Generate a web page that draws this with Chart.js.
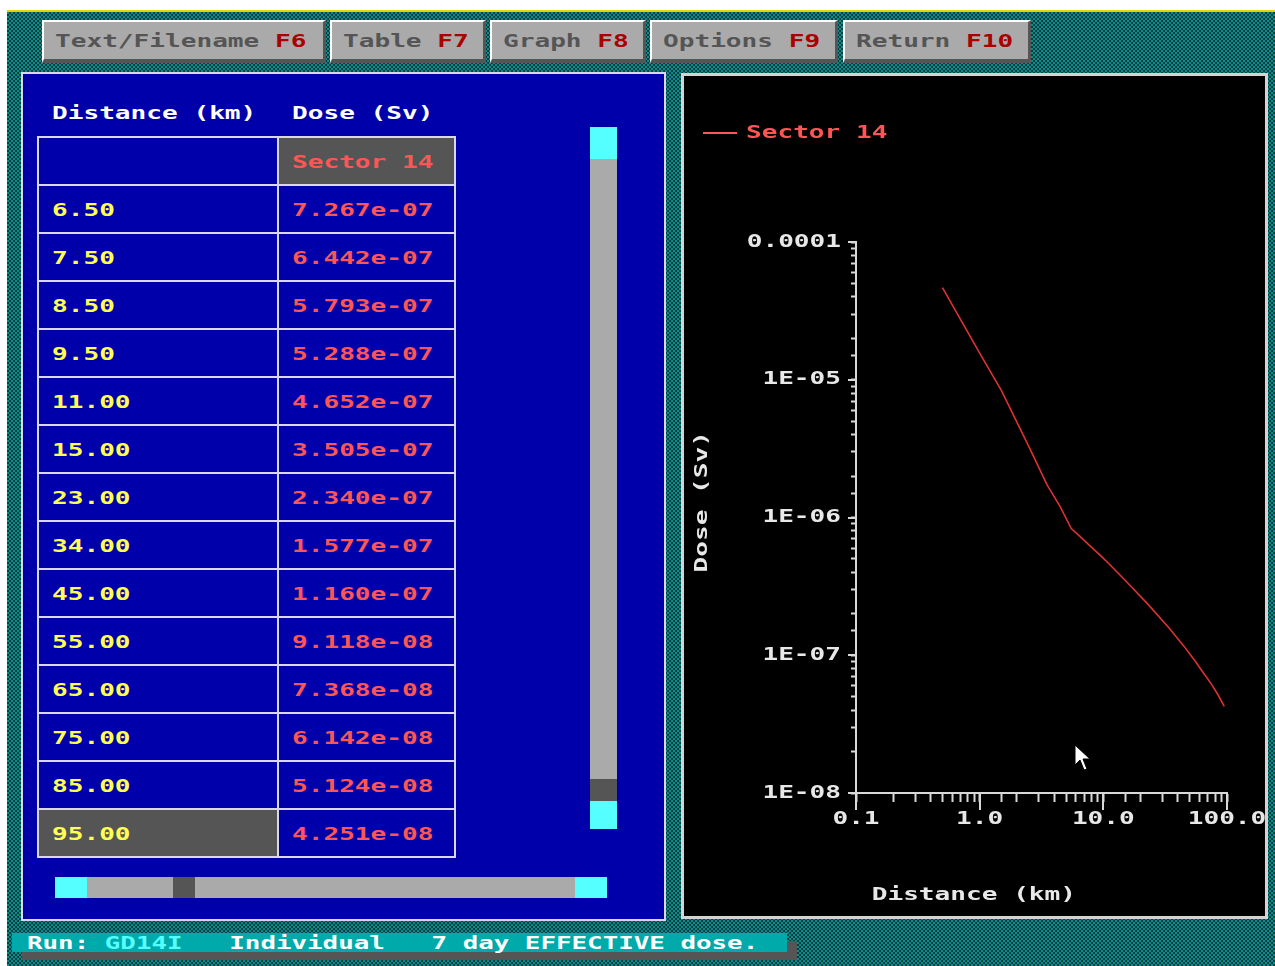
<!DOCTYPE html>
<html>
<head>
<meta charset="utf-8">
<title>Dose (Sv) - Sector 14</title>
<script src="https://cdn.jsdelivr.net/npm/chart.js@4.4.1/dist/chart.umd.min.js"></script>
<style>
  body { margin: 0; width: 1275px; height: 966px; background: #fff; position: relative; overflow: hidden;
         font-family: "DejaVu Sans Mono", monospace; font-weight: bold; font-size: 18px; }
  .abs { position: absolute; }
  .w { display: inline-block; transform: scaleX(1.45); transform-origin: 0 50%; white-space: pre; }
  #screen { left: 7px; top: 10px; width: 1268px; height: 956px; border-top: 2px solid #e4d400; box-sizing: border-box;
            background-image: conic-gradient(#073d3d 25%, #0b8b8b 0 50%, #073d3d 0 75%, #0b8b8b 0);
            background-size: 4px 4px; }
  .btn { top: 20px; height: 43px; box-sizing: border-box; background: #aaa; color: #555;
         border-top: 2px solid #fff; border-left: 2px solid #fff; border-right: 3px solid #555; border-bottom: 4px solid #555;
         display: flex; align-items: center; padding-left: 11px; }
  .btn .key { color: #aa0000; }
  #left { left: 21px; top: 72px; width: 645px; height: 849px; box-sizing: border-box; background: #0000aa; border: 2px solid #d8d8e8; }
  .head { color: #fff; top: 102px; }
  #grid { left: 37px; top: 136px; display: grid; grid-template-columns: 238px 175px; grid-auto-rows: 46px; gap: 2px;
          padding: 2px; background: #d8d8e8; }
  .cell { background: #0000aa; display: flex; align-items: center; padding-left: 13px; }
  .cell.d { color: #ffff55; }
  .cell.v { color: #ff5555; }
  .cell.hl { background: #555; }
  .bar { background: #aaa; }
  .cy { background: #55ffff; }
  .dk { background: #555; }
  #right { left: 681px; top: 73px; width: 587px; height: 846px; box-sizing: border-box; background: #000; border: 3px solid #d4d4d4; }
  #status { left: 12px; top: 933px; width: 775px; height: 19px; background: #00aaaa; color: #fff;
            box-shadow: 10px 8px 0 #555; font-size: 17px; display: flex; align-items: center; padding-left: 15px; box-sizing: border-box; }
  #status .w { transform: scaleX(1.52); }
  #status .run { color: #55ffff; }
</style>
</head>
<body>
<div id="screen" class="abs"></div>

<div class="abs btn" style="left:42px;width:284px"><span class="w">Text/Filename <span class="key">F6</span></span></div>
<div class="abs btn" style="left:330px;width:156px"><span class="w">Table <span class="key">F7</span></span></div>
<div class="abs btn" style="left:490px;width:156px"><span class="w">Graph <span class="key">F8</span></span></div>
<div class="abs btn" style="left:650px;width:188px"><span class="w">Options <span class="key">F9</span></span></div>
<div class="abs btn" style="left:843px;width:188px"><span class="w">Return <span class="key">F10</span></span></div>

<div id="left" class="abs"></div>
<div class="abs head" style="left:52px"><span class="w">Distance (km)</span></div>
<div class="abs head" style="left:292px"><span class="w">Dose (Sv)</span></div>
<div id="grid" class="abs"></div>

<!-- vertical scroll bar -->
<div class="abs cy" style="left:590px;top:127px;width:27px;height:32px"></div>
<div class="abs bar" style="left:590px;top:159px;width:27px;height:620px"></div>
<div class="abs dk" style="left:590px;top:779px;width:27px;height:22px"></div>
<div class="abs cy" style="left:590px;top:801px;width:27px;height:28px"></div>
<!-- horizontal scroll bar -->
<div class="abs cy" style="left:55px;top:877px;width:32px;height:21px"></div>
<div class="abs bar" style="left:87px;top:877px;width:86px;height:21px"></div>
<div class="abs dk" style="left:173px;top:877px;width:22px;height:21px"></div>
<div class="abs bar" style="left:195px;top:877px;width:380px;height:21px"></div>
<div class="abs cy" style="left:575px;top:877px;width:32px;height:21px"></div>

<div id="right" class="abs">
  <canvas id="dose-chart" width="581" height="840"></canvas>
</div>

<svg class="abs" style="left:1074px;top:744px" width="20" height="30" viewBox="0 0 20 30">
  <polygon points="1,1 1,21 6,16 10,26 13,25 9,15 16,15" fill="#fff" stroke="#000" stroke-width="1"/>
</svg>

<div id="status" class="abs"><span class="w">Run: <span class="run">GD14I</span>   Individual   7 day EFFECTIVE dose.</span></div>

<script>
// 7 day effective dose along sector 14
const distances = [0.5, 1.0, 1.5, 2.5, 3.5, 4.5, 5.5, 6.5, 7.5, 8.5, 9.5, 11, 15, 23, 34, 45, 55, 65, 75, 85, 95];
const doses = [4.67e-5, 1.56e-5, 8.34e-6, 3.27e-6, 1.73e-6, 1.19e-6, 8.31e-7,
    7.267e-7, 6.442e-7, 5.793e-7, 5.288e-7, 4.652e-7, 3.505e-7, 2.340e-7, 1.577e-7,
    1.160e-7, 9.118e-8, 7.368e-8, 6.142e-8, 5.124e-8, 4.251e-8];
const seriesLabel = 'Sector 14';
const xTickLabels = ['0.1', '1.0', '10.0', '100.0'];
const yTickLabels = ['1E-08', '1E-07', '1E-06', '1E-05', '0.0001'];
const firstTableRow = 7; // table is scrolled to the end

const axisColor = '#d8d8d8';
const textColor = '#e8e8e8';
const dosFont = { family: '"DejaVu Sans Mono", monospace', size: 18, weight: 'bold' };
const stretch = 1.45; // horizontal stretch of the screen font

function fmtDose(v) {
    const [m, e] = v.toExponential(3).split('e');
    const n = Math.abs(parseInt(e, 10));
    return m + 'e' + (e[0] === '-' ? '-' : '+') + String(n).padStart(2, '0');
}

// table on the left
const grid = document.getElementById('grid');
function addCell(cls, text) {
    const c = document.createElement('div');
    c.className = 'cell ' + cls;
    const s = document.createElement('span');
    s.className = 'w';
    s.textContent = text;
    c.appendChild(s);
    grid.appendChild(c);
}
addCell('d', '');
addCell('v hl', seriesLabel);
for (let i = firstTableRow; i < distances.length; i++) {
    const last = i === distances.length - 1;
    addCell('d' + (last ? ' hl' : ''), distances[i].toFixed(2));
    addCell('v', fmtDose(doses[i]));
}

function decadeIndex(v, offset) {
    const l = Math.log10(v);
    const r = Math.round(l);
    return Math.abs(l - r) < 1e-6 ? r + offset : -1;
}

// canvas text gets the same wide lettering as the rest of the screen
const canvas = document.getElementById('dose-chart');
const ctx = canvas.getContext('2d');
const plainFill = ctx.fillText.bind(ctx);
ctx.fillText = function (text, x, y, maxWidth) {
    ctx.save();
    ctx.translate(x, y);
    ctx.scale(stretch, 1);
    if (maxWidth !== undefined) plainFill(text, 0, 0, maxWidth / stretch);
    else plainFill(text, 0, 0);
    ctx.restore();
};

// decade tick marks are longer than the minor ones
const longTicks = {
    id: 'longTicks',
    afterDraw(chart) {
        const { ctx, chartArea, scales } = chart;
        ctx.save();
        ctx.strokeStyle = axisColor;
        ctx.lineWidth = 2;
        ctx.beginPath();
        scales.x.ticks.forEach(t => {
            if (decadeIndex(t.value, 1) < 0) return;
            const px = Math.round(scales.x.getPixelForValue(t.value));
            ctx.moveTo(px, chartArea.bottom);
            ctx.lineTo(px, chartArea.bottom + 17);
        });
        scales.y.ticks.forEach(t => {
            if (decadeIndex(t.value, 8) < 0) return;
            const py = Math.round(scales.y.getPixelForValue(t.value));
            ctx.moveTo(chartArea.left - 8, py);
            ctx.lineTo(chartArea.left, py);
        });
        ctx.stroke();
        ctx.restore();
    }
};

const chart = new Chart(ctx, {
    type: 'line',
    data: {
        datasets: [{
            label: seriesLabel,
            data: distances.map((d, i) => ({ x: d, y: doses[i] })),
            borderColor: '#dc3232',
            backgroundColor: '#ff5555',
            borderWidth: 1.6,
            pointRadius: 0,
            tension: 0
        }]
    },
    plugins: [longTicks],
    options: {
        responsive: false,
        animation: false,
        layout: { padding: { top: 38, left: 9, right: 38, bottom: 0 } },
        plugins: {
            legend: {
                position: 'top',
                align: 'start',
                weight: 3000,
                labels: {
                    color: '#ff5555',
                    font: dosFont,
                    boxWidth: 34,
                    boxHeight: 2,
                    padding: 10,
                    generateLabels: (c) => Chart.defaults.plugins.legend.labels.generateLabels(c)
                        .map(l => Object.assign(l, { lineWidth: 0, fillStyle: '#ff5555' }))
                }
            },
            // empty title keeps the gap between legend and plot
            title: { display: true, text: ' ', weight: 2000, font: { size: 10, lineHeight: 1 }, padding: { top: 80, bottom: 0 } },
            tooltip: { enabled: false }
        },
        scales: {
            x: {
                type: 'logarithmic',
                min: 0.1,
                max: 100,
                afterFit(s) { s.height = 123; s.paddingLeft = 0; s.paddingRight = 0; },
                border: { display: true, color: axisColor, width: 2 },
                grid: { drawOnChartArea: false, tickLength: 9, tickColor: axisColor, tickWidth: 2 },
                ticks: {
                    autoSkip: false, maxRotation: 0, minRotation: 0, padding: 7,
                    color: textColor, font: dosFont,
                    callback: (v) => { const i = decadeIndex(v, 1); return i >= 0 ? xTickLabels[i] : ''; }
                },
                title: {
                    display: true, text: ' Distance (km)', align: 'start', color: textColor,
                    font: dosFont, padding: { top: 0, bottom: 10 }
                }
            },
            y: {
                type: 'logarithmic',
                min: 1e-8,
                max: 1e-4,
                afterFit(s) { s.width = 163; s.paddingTop = 0; s.paddingBottom = 0; },
                border: { display: true, color: axisColor, width: 2 },
                grid: { drawOnChartArea: false, tickLength: 5, tickColor: axisColor, tickWidth: 2 },
                ticks: {
                    autoSkip: false, padding: 10,
                    color: textColor, font: dosFont,
                    callback: (v) => { const i = decadeIndex(v, 8); return i >= 0 ? yTickLabels[i] : ''; }
                },
                title: {
                    display: true, text: '  Dose (Sv)', color: textColor,
                    font: Object.assign({}, dosFont, { lineHeight: 1 }), padding: { top: 0, bottom: 0 }
                }
            }
        }
    }
});
</script>
</body>
</html>
